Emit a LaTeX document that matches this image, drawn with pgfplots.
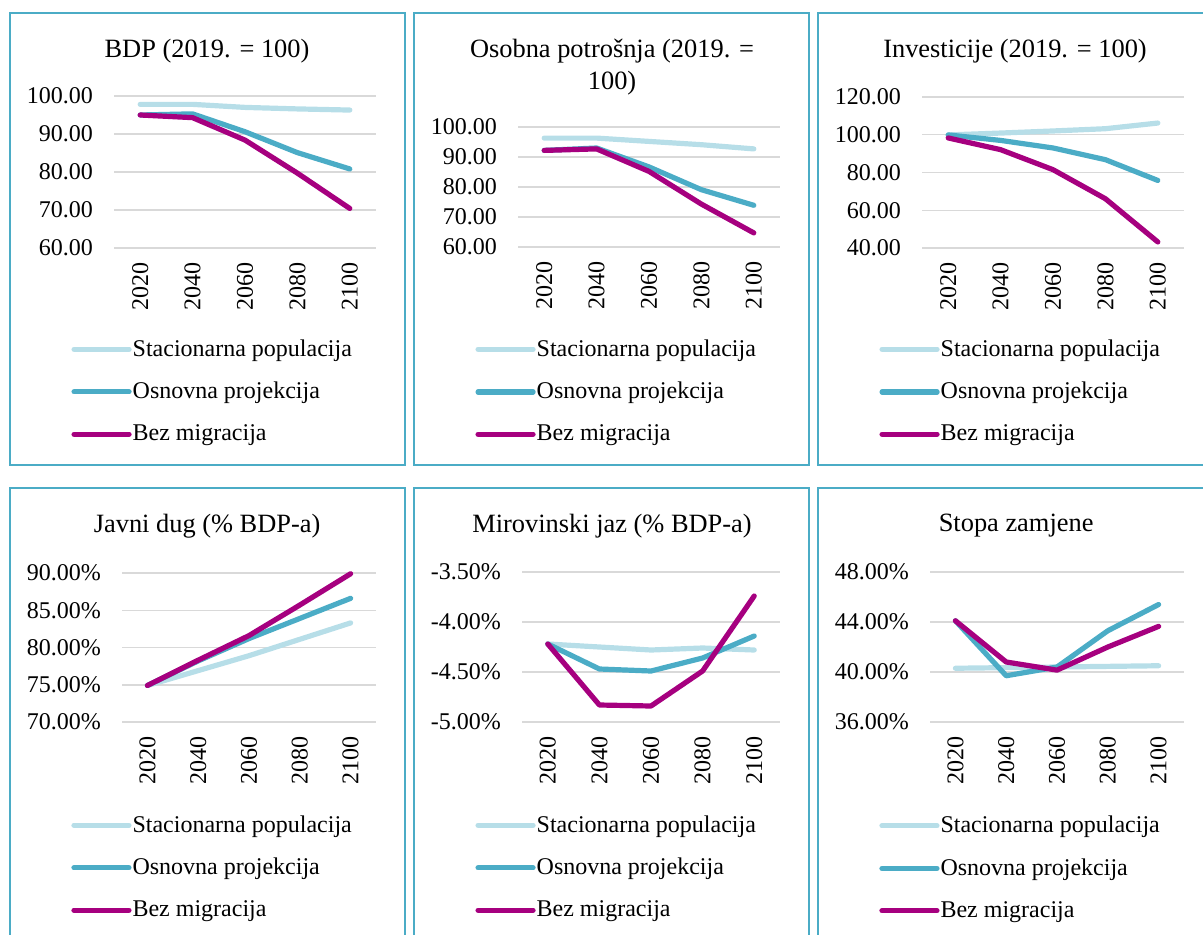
\documentclass[border=0pt]{standalone}
\usepackage{pgfplots}
\pgfplotsset{compat=1.18}
\usepackage{fontspec}
\setmainfont{Liberation Serif}
\definecolor{cS}{HTML}{B7DEE8}
\definecolor{cO}{HTML}{4BACC6}
\definecolor{cB}{HTML}{A6007F}
\definecolor{framec}{HTML}{4BACC6}
\definecolor{gridc}{HTML}{D9D9D9}
\pgfplotsset{
 panel/.style={
  scale only axis, anchor=south west, clip=false,
  xmin=-0.5, xmax=4.5, xtick={0,...,4}, xticklabels={2020,2040,2060,2080,2100},
  axis line style={draw=none}, major tick length=0pt, tick style={draw=none},
  ymajorgrids, grid style={draw=gridc, line width=0.75pt},
  /pgf/number format/.cd, fixed, fixed zerofill, precision=2, assume math mode=true, /pgfplots/.cd,
  tick label style={font=\fontsize{12}{14}\selectfont},
  xticklabel style={yshift=-3.5pt, rotate=90, anchor=east},
  yticklabel style={xshift=-7pt},
  title style={font=\fontsize{13.2}{16}\selectfont, anchor=center, align=center, yshift=-7.5pt},
  legend style={draw=none, fill=none, anchor=north west, font=\fontsize{12}{14}\selectfont, row sep=10.5pt, column sep=0pt, inner sep=0pt, nodes={inner sep=0.5pt}, xshift=-0.5pt, yshift=-1pt},
  legend cell align=left,
  legend image code/.code={\draw[##1] (0pt,0pt) -- (27.5pt,0pt);},
  every axis plot/.append style={line width=2.6pt, line cap=round, line join=round, mark=none},
  legend entries={Stacionarna populacija, Osnovna projekcija, Bez migracija},
 },
 pct/.style={yticklabel={\pgfmathprintnumber{\tick}\%}},
}
\begin{document}
\begin{tikzpicture}
\useasboundingbox (0,0) rectangle (601.5pt,-467.5pt);
\clip (0,0) rectangle (601.5pt,-467.5pt);
\begin{scope}[draw=framec, line width=1pt]
\draw (5pt,-6.5pt) rectangle (202.5pt,-232.5pt);
\draw (207pt,-6.5pt) rectangle (404.5pt,-232.5pt);
\draw (409pt,-6.5pt) rectangle (606.5pt,-232.5pt);
\draw (5pt,-244pt) rectangle (202.5pt,-470pt);
\draw (207pt,-244pt) rectangle (404.5pt,-470pt);
\draw (409pt,-244pt) rectangle (606.5pt,-470pt);
\end{scope}

% Panel 1
\begin{axis}[panel, at={(57pt,-124pt)}, width=131pt, height=76pt,
  ymin=60, ymax=100, ytick={60,70,...,100},
  title={BDP (2019. = 100)}, title style={at={(0.355,1.316)}},
  legend style={at={(-0.160,-0.579)}}]
\addplot[cS] coordinates {(0,97.8) (1,97.8) (2,97.0) (3,96.6) (4,96.3)};
\addplot[cO] coordinates {(0,95.0) (1,95.3) (2,90.6) (3,85.1) (4,80.8)};
\addplot[cB] coordinates {(0,95.0) (1,94.3) (2,88.4) (3,79.7) (4,70.4)};
\end{axis}

% Panel 2
\begin{axis}[panel, at={(259pt,-123.5pt)}, width=131pt, height=60pt,
  ymin=60, ymax=100, ytick={60,70,...,100},
  title={Osobna potrošnja (2019. =\\100)}, title style={at={(0.359,1.525)}},
  legend style={at={(-0.160,-0.742)}}]
\addplot[cS] coordinates {(0,96.3) (1,96.3) (2,95.2) (3,94.1) (4,92.7)};
\addplot[cO] coordinates {(0,92.2) (1,93.0) (2,86.7) (3,79.1) (4,73.9)};
\addplot[cB] coordinates {(0,92.2) (1,92.7) (2,85.2) (3,74.3) (4,64.7)};
\end{axis}

% Panel 3
\begin{axis}[panel, at={(461pt,-124pt)}, width=131pt, height=75.5pt,
  ymin=40, ymax=120, ytick={40,60,...,120},
  title={Investicije (2019. = 100)}, title style={at={(0.355,1.325)}},
  legend style={at={(-0.160,-0.583)}}]
\addplot[cS] coordinates {(0,99.9) (1,100.9) (2,102.0) (3,103.2) (4,106.2)};
\addplot[cO] coordinates {(0,99.9) (1,97.0) (2,93.0) (3,86.8) (4,75.8)};
\addplot[cB] coordinates {(0,98.3) (1,92.1) (2,81.5) (3,66.1) (4,43.2)};
\end{axis}

% Panel 4
\begin{axis}[panel, pct, at={(61pt,-361pt)}, width=127pt, height=74.5pt,
  ymin=70, ymax=90, ytick={70,75,...,90},
  title={Javni dug (\% BDP-a)}, title style={at={(0.335,1.336)}},
  legend style={at={(-0.197,-0.604)}}]
\addplot[cS] coordinates {(0,74.9) (1,76.9) (2,78.9) (3,81.1) (4,83.3)};
\addplot[cO] coordinates {(0,74.9) (1,78.2) (2,81.2) (3,83.9) (4,86.6)};
\addplot[cB] coordinates {(0,74.9) (1,78.3) (2,81.6) (3,85.7) (4,89.9)};
\end{axis}

% Panel 5
\begin{axis}[panel, pct, at={(261pt,-361pt)}, width=129pt, height=75pt,
  ymin=-5, ymax=-3.5, ytick={-5,-4.5,-4,-3.5},
  title={Mirovinski jaz (\% BDP-a)}, title style={at={(0.349,1.327)}},
  legend style={at={(-0.178,-0.6)}}]
\addplot[cS] coordinates {(0,-4.22) (1,-4.25) (2,-4.28) (3,-4.26) (4,-4.28)};
\addplot[cO] coordinates {(0,-4.22) (1,-4.47) (2,-4.49) (3,-4.36) (4,-4.14)};
\addplot[cB] coordinates {(0,-4.22) (1,-4.83) (2,-4.84) (3,-4.49) (4,-3.74)};
\end{axis}

% Panel 6
\begin{axis}[panel, pct, at={(465pt,-361pt)}, width=127pt, height=75pt,
  ymin=36, ymax=48, ytick={36,40,44,48},
  title={Stopa zamjene}, title style={at={(0.339,1.327)}},
  legend style={at={(-0.197,-0.604)}}]
\addplot[cS] coordinates {(0,40.3) (1,40.35) (2,40.4) (3,40.45) (4,40.5)};
\addplot[cO] coordinates {(0,44.1) (1,39.7) (2,40.4) (3,43.3) (4,45.4)};
\addplot[cB] coordinates {(0,44.1) (1,40.8) (2,40.15) (3,42.0) (4,43.65)};
\end{axis}
\end{tikzpicture}
\end{document}
